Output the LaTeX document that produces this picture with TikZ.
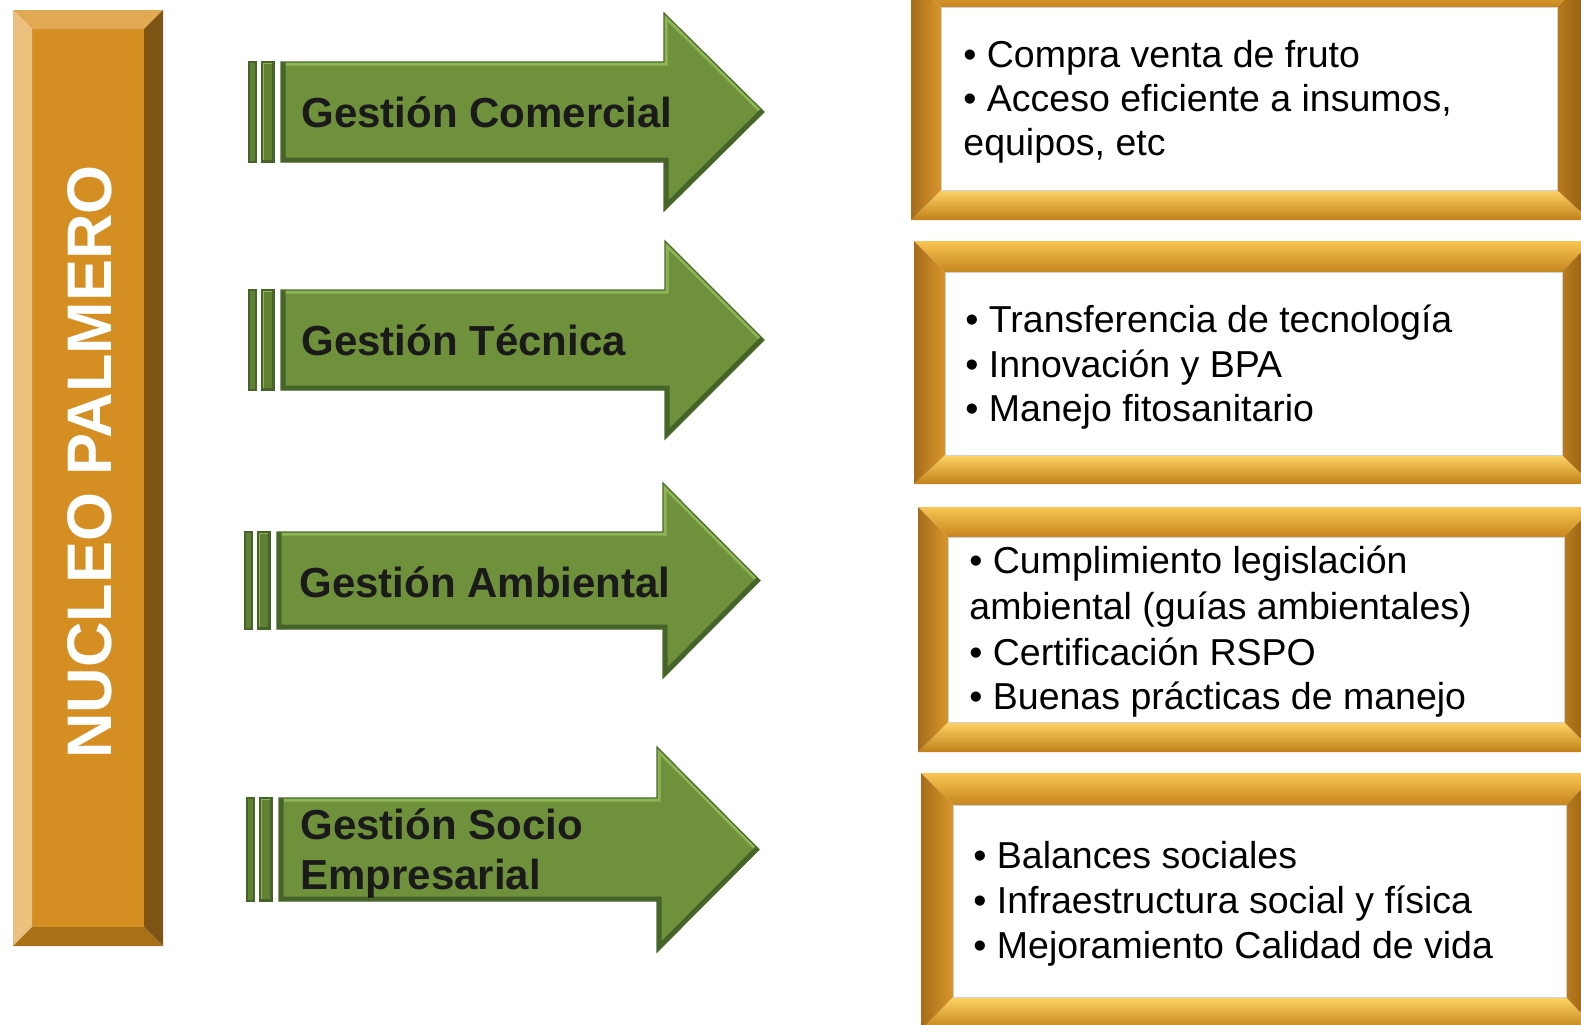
\documentclass[tikz,border=0pt]{standalone}
\usepackage{fontspec}
\setmainfont{Liberation Sans}
\definecolor{barface}{HTML}{D48E22}
\definecolor{bartop}{HTML}{E2A955}
\definecolor{barleft}{HTML}{ECC07F}
\definecolor{barright}{HTML}{7F5515}
\definecolor{barbot}{HTML}{A87118}
\definecolor{grfill}{HTML}{6F913C}
\definecolor{grlight}{HTML}{8EB456}
\definecolor{grdark}{HTML}{46632A}
\definecolor{grline}{HTML}{4A6A28}
\definecolor{grbar}{HTML}{5F8131}
\definecolor{titletext}{HTML}{1A1A1A}
\definecolor{gTopA}{HTML}{F8C452}
\definecolor{gTopB}{HTML}{E7A533}
\definecolor{gTopC}{HTML}{C7861E}
\definecolor{gBotA}{HTML}{FFD466}
\definecolor{gBotB}{HTML}{E6A537}
\definecolor{gBotC}{HTML}{C0801A}
\definecolor{gLeftA}{HTML}{A66C1A}
\definecolor{gLeftB}{HTML}{D8962A}
\definecolor{gRightA}{HTML}{B97B1C}
\definecolor{gRightB}{HTML}{8C5A10}
\tikzset{
  titletxt/.style={font=\fontsize{21}{25.5}\selectfont\bfseries, text=titletext, anchor=base west, inner sep=0pt},
  itemtxt/.style={font=\fontsize{18.75}{22.5}\selectfont, text=black, anchor=base west, inner sep=0pt},
}
% gold bevel frame: outer x1 y1 x2 y2, inner x1 y1 x2 y2
\newcommand{\goldframe}[8]{%
  \shade[top color=gTopA, middle color=gTopB, bottom color=gTopC]
    (#1,#2) -- (#3,#2) -- (#7,#6) -- (#5,#6) -- cycle;
  \shade[top color=gBotA, middle color=gBotB, bottom color=gBotC]
    (#5,#8) -- (#7,#8) -- (#3,#4) -- (#1,#4) -- cycle;
  \shade[left color=gLeftA, right color=gLeftB]
    (#1,#2) -- (#5,#6) -- (#5,#8) -- (#1,#4) -- cycle;
  \shade[left color=gRightA, right color=gRightB]
    (#3,#2) -- (#7,#6) -- (#7,#8) -- (#3,#4) -- cycle;
  \draw[white!82!black, line width=0.4pt, fill=white] (#5,#6) rectangle (#7,#8);
}
% green arrow: bar1 x, body top y, body bottom y, head start x, head top y, head bottom y, tip x
\newcommand{\greenarrow}[7]{%
  \fill[grbar] (#1,#2) rectangle ({#1+7},#3);
  \draw[grdark, line width=0.6pt] (#1,#2) rectangle ({#1+7},#3);
  \fill[grbar] ({#1+13},#2) rectangle ({#1+25},#3);
  \begin{scope}
    \clip ({#1+13},#2) rectangle ({#1+25},#3);
    \draw[grlight, line width=2pt] ({#1+13},#3) -- ({#1+13},#2) -- ({#1+25},#2);
    \draw[grdark, line width=2.5pt] ({#1+25},#2) -- ({#1+25},#3) -- ({#1+13},#3);
  \end{scope}
  \draw[grdark, line width=0.6pt] ({#1+13},#2) rectangle ({#1+25},#3);
  \fill[grfill] ({#1+32},#2) -- (#4,#2) -- (#4,#5) -- (#7,{(#2+#3)/2}) -- (#4,#6) -- (#4,#3) -- ({#1+32},#3) -- cycle;
  \begin{scope}
    \clip ({#1+32},#2) -- (#4,#2) -- (#4,#5) -- (#7,{(#2+#3)/2}) -- (#4,#6) -- (#4,#3) -- ({#1+32},#3) -- cycle;
    \draw[grlight, line width=3.5pt, line join=miter] ({#1+32},#2) -- (#4,#2) -- (#4,#5) -- (#7,{(#2+#3)/2});
    \draw[grdark, line width=4.5pt, line join=miter] (#7,{(#2+#3)/2}) -- (#4,#6) -- (#4,#3) -- ({#1+32},#3) -- ({#1+32},#2);
  \end{scope}
  \draw[grline, line width=0.6pt, line join=miter] ({#1+32},#2) -- (#4,#2) -- (#4,#5) -- (#7,{(#2+#3)/2}) -- (#4,#6) -- (#4,#3) -- ({#1+32},#3) -- cycle;
}
\begin{document}
\begin{tikzpicture}[x=0.5pt,y=-0.5pt]
\useasboundingbox (0,0) rectangle (1581,1024);
\clip (0,0) rectangle (1581,1024);

% ---- left bar ----
\fill[barface] (32,29) rectangle (144,927);
\fill[bartop] (13,10) -- (163,10) -- (144,29) -- (32,29) -- cycle;
\fill[barleft] (13,10) -- (32,29) -- (32,927) -- (13,946) -- cycle;
\fill[barright] (163,10) -- (144,29) -- (144,927) -- (163,946) -- cycle;
\fill[barbot] (13,946) -- (163,946) -- (144,927) -- (32,927) -- cycle;
\node[rotate=90, anchor=base, text=white, inner sep=0pt,
      font=\fontsize{31.5}{36}\selectfont\bfseries] (np) at (112,462) {NUCLEO PALMERO};

% ---- arrows ----
\greenarrow{249}{62}{162}{664}{13}{211}{764}
\node[titletxt] (t1) at (301,127) {Gestión Comercial};

\greenarrow{249}{290}{390}{665}{241}{439}{764}
\node[titletxt] (t2) at (301,355) {Gestión Técnica};

\greenarrow{245}{532}{629}{663}{483}{678}{760}
\node[titletxt] (t3) at (299,597) {Gestión Ambiental};

\greenarrow{247}{798}{901}{657}{747}{952}{759}
\node[titletxt] (t4a) at (300,839) {Gestión Socio};
\node[titletxt] (t4b) at (300,889) {Empresarial};

% ---- frames ----
\goldframe{911}{-24}{1590}{220}{941}{7}{1557}{190}
\node[itemtxt] (f1a) at (963,67)  {• Compra venta de fruto};
\node[itemtxt] (f1b) at (963,111) {• Acceso eficiente a insumos,};
\node[itemtxt] (f1c) at (963,155) {equipos, etc};

\goldframe{914}{241}{1592}{484}{945}{272}{1562}{455}
\node[itemtxt] (f2a) at (965,332) {• Transferencia de tecnología};
\node[itemtxt] (f2b) at (965,377) {• Innovación y BPA};
\node[itemtxt] (f2c) at (965,421) {• Manejo fitosanitario};

\goldframe{918}{507}{1594}{752}{948}{537}{1564}{722}
\node[itemtxt] (f3a) at (969,573) {• Cumplimiento legislación};
\node[itemtxt] (f3b) at (969,619) {ambiental (guías ambientales)};
\node[itemtxt] (f3c) at (969,665) {• Certificación RSPO};
\node[itemtxt] (f3d) at (969,709) {• Buenas prácticas de manejo};

\goldframe{921}{773}{1597}{1030}{953}{805}{1566}{997}
\node[itemtxt] (f4a) at (973,868) {• Balances sociales};
\node[itemtxt] (f4b) at (973,913) {• Infraestructura social y física};
\node[itemtxt] (f4c) at (973,958) {• Mejoramiento Calidad de vida};
\end{tikzpicture}
\end{document}
